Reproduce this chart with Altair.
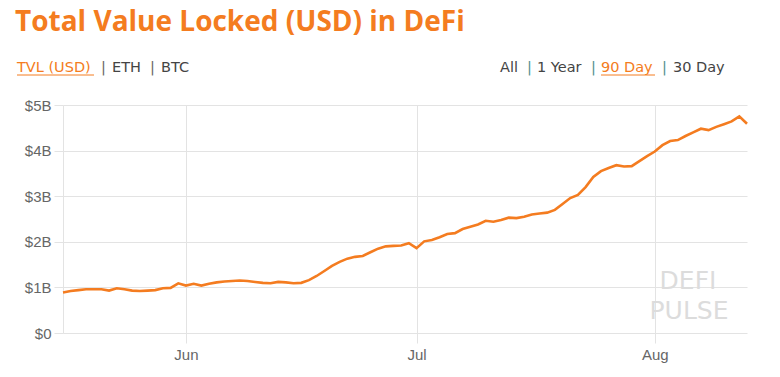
import altair as alt
import pandas as pd

# ---- data (daily TVL in billions USD, 16 May - 13 Aug) ----
dates = pd.date_range("2020-05-16", "2020-08-13", freq="D").strftime("%Y-%m-%d").tolist()
may = [0.89, 0.92, 0.94, 0.96, 0.96, 0.96, 0.93, 0.98, 0.96, 0.93, 0.92, 0.93, 0.94, 0.98, 0.99, 1.09]
jun = [1.04, 1.08, 1.04, 1.08, 1.11, 1.13, 1.14, 1.15, 1.14, 1.12, 1.10, 1.09, 1.12, 1.11, 1.09,
       1.10, 1.16, 1.25, 1.36, 1.47, 1.56, 1.63, 1.67, 1.69, 1.77, 1.85, 1.90, 1.91, 1.92, 1.97]
jul = [1.86, 2.01, 2.04, 2.10, 2.17, 2.19, 2.28, 2.33, 2.38, 2.46, 2.44, 2.48, 2.53, 2.52, 2.55,
       2.60, 2.62, 2.64, 2.70, 2.83, 2.96, 3.03, 3.20, 3.42, 3.55, 3.62, 3.68, 3.65, 3.66, 3.77, 3.88]
aug = [3.98, 4.12, 4.21, 4.23, 4.32, 4.40, 4.48, 4.45, 4.52, 4.58, 4.64, 4.75, 4.59]
tvl_billion = may + jun + jul + aug

y_ticks = [0, 1, 2, 3, 4, 5]
x_ticks = ["2020-06-01", "2020-07-01", "2020-08-01"]

title_text = "Total Value Locked (USD) in DeFi"
left_tabs = ["TVL (USD)", "|", "ETH", "|", "BTC"]
right_tabs = ["All", "|", "1 Year", "|", "90 Day", "|", "30 Day"]
watermark = ["DEFI", "PULSE"]

df = pd.DataFrame({"date": dates, "tvl": tvl_billion})

ORANGE = "#f47c20"
LABEL_FONT = "Liberation Sans"
TITLE_FONT = "Open Sans"
TAB_FONT = "DejaVu Sans"

W, H = 684, 228

line = alt.Chart(df).mark_line(color=ORANGE, strokeWidth=2.6, interpolate="linear").encode(
    x=alt.X("date:T",
            scale=alt.Scale(domain=[dates[0], dates[-1]], nice=False),
            axis=alt.Axis(values=x_ticks, format="%b", title=None, grid=True,
                          gridColor="#e3e3e3", tickColor="#e3e3e3", tickSize=10,
                          domain=False, labelPadding=4, labelFont=LABEL_FONT,
                          labelFontSize=15, labelColor="#666666")),
    y=alt.Y("tvl:Q",
            scale=alt.Scale(domain=[0, 5], nice=False),
            axis=alt.Axis(values=y_ticks, title=None, grid=True, gridColor="#e3e3e3",
                          tickColor="#e3e3e3", tickSize=9, domain=True, domainColor="#e3e3e3",
                          labelPadding=3, labelFont=LABEL_FONT, labelFontSize=15,
                          labelColor="#666666",
                          labelExpr="datum.value == 0 ? '$0' : '$' + datum.value + 'B'")),
)


def txt(s, x, y, color="#444444", size=14, weight="normal", font=TAB_FONT, align="left"):
    return alt.Chart(pd.DataFrame({"t": [s]})).mark_text(
        align=align, baseline="alphabetic", font=font, fontSize=size,
        fontWeight=weight, color=color).encode(
        text="t:N", x=alt.value(x), y=alt.value(y))


def underline(x1, x2, y, color=ORANGE):
    return alt.Chart(pd.DataFrame({"a": [0]})).mark_rule(color=color, strokeWidth=1).encode(
        x=alt.value(x1), x2=alt.value(x2), y=alt.value(y))


ox, oy = 63, 105  # plot origin in page pixels
layers = [line]
layers.append(txt(title_text, 15 - ox, 31 - oy, color=ORANGE, size=28, weight="bold",
                  font=TITLE_FONT))

# left tabs
lx = [17, 101, 112, 150, 161]
for s, x in zip(left_tabs, lx):
    c = ORANGE if s == "TVL (USD)" else ("#666666" if s == "|" else "#444444")
    layers.append(txt(s, x - ox, 72 - oy, color=c, size=14.5))
layers.append(underline(17 - ox, 94 - ox, 75 - oy))

# right tabs
rx = [500, 527, 537, 591, 601, 662, 673]
for s, x in zip(right_tabs, rx):
    c = ORANGE if s == "90 Day" else ("#4f8f8f" if s == "|" else "#444444")
    layers.append(txt(s, x - ox, 72 - oy, color=c, size=14.5))
layers.append(underline(601 - ox, 655 - ox, 75 - oy))

# watermark
layers.append(txt(watermark[0], 688 - ox, 289 - oy, color="#dcdcdc", size=25,
                  font="DejaVu Sans", align="center"))
layers.append(txt(watermark[1], 689 - ox, 319 - oy, color="#dcdcdc", size=25,
                  font="DejaVu Sans", align="center"))

chart = alt.layer(*layers).properties(
    width=W, height=H,
    autosize=alt.AutoSizeParams(type="none"),
    padding={"left": 55, "top": 97, "right": 17, "bottom": 34},
    background="white",
).configure_view(stroke=None)

chart.save("out.html", embed_options={"renderer": "svg", "actions": False})
